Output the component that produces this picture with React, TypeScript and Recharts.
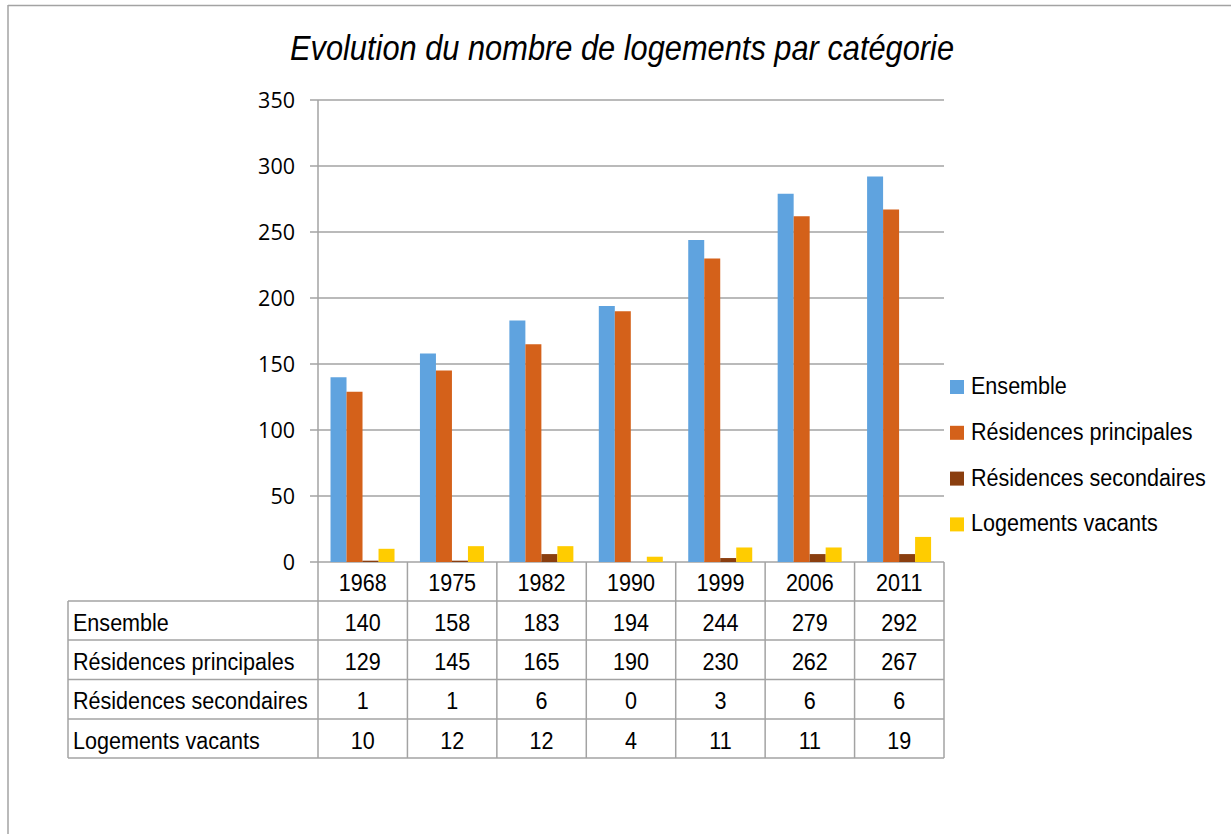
import React from 'react';
import { BarChart, Bar, XAxis, YAxis, CartesianGrid, Legend } from 'recharts';

const years = ['1968', '1975', '1982', '1990', '1999', '2006', '2011'];
const ensemble = [140, 158, 183, 194, 244, 279, 292];
const principales = [129, 145, 165, 190, 230, 262, 267];
const secondaires = [1, 1, 6, 0, 3, 6, 6];
const vacants = [10, 12, 12, 4, 11, 11, 19];
const seriesNames = ['Ensemble', 'Résidences principales', 'Résidences secondaires', 'Logements vacants'];
const seriesKeys = ['ensemble', 'principales', 'secondaires', 'vacants'];
const seriesColors = ['#5fa3df', '#d4611a', '#8a3e0f', '#ffcc00'];
const seriesValues = [ensemble, principales, secondaires, vacants];
const yTicks = [0, 50, 100, 150, 200, 250, 300, 350];

const data = years.map((year, i) => ({
  year,
  ensemble: ensemble[i],
  principales: principales[i],
  secondaires: secondaires[i],
  vacants: vacants[i],
}));

const W = 1231;
const H = 834;
const PLOT_LEFT = 318;
const PLOT_RIGHT = 944;
const PLOT_TOP = 100;
const PLOT_BOTTOM = 562;
const TABLE_LEFT = 68;
const rowLines = [562, 601, 640, 679.5, 719, 758];
const LINE = '#a3a3a3';
const FONT = '"Liberation Sans", Arial, sans-serif';
const SQX = 0.88; // narrow look of the original text

function CondText({ x, y, size, anchor = 'start', italic = false, children }: any) {
  return (
    <text
      transform={`translate(${x},${y}) scale(${SQX},1)`}
      textAnchor={anchor}
      fontFamily={FONT}
      fontSize={size}
      fontStyle={italic ? 'italic' : 'normal'}
      fill="#000"
    >
      {children}
    </text>
  );
}

function YTick({ x, y, payload }: any) {
  return (
    <text
      x={x}
      y={y + 7.5}
      textAnchor="end"
      fontFamily='"Open Sans", sans-serif'
      fontSize={21.5}
      fill="#000"
    >
      {payload.value}
    </text>
  );
}

function LegendBox({ payload }: any) {
  // keep the series order, not the alphabetical one
  const items = [...(payload || [])].sort(
    (a: any, b: any) => seriesNames.indexOf(a.value) - seriesNames.indexOf(b.value)
  );
  return (
    <svg width={287} height={200}>
      {items.map((p: any, i: number) => {
        const base = 24 + i * 45.8;
        return (
          <g key={p.value}>
            <rect x={6} y={base - 14} width={14} height={14} fill={p.color} />
            <CondText x={27} y={base} size={24.5}>{p.value}</CondText>
          </g>
        );
      })}
    </svg>
  );
}

function DataTable() {
  const colW = (PLOT_RIGHT - PLOT_LEFT) / years.length;
  const cols = years.map((_, i) => PLOT_LEFT + i * colW);
  cols.push(PLOT_RIGHT);
  return (
    <svg width={W} height={H} style={{ position: 'absolute', left: 0, top: 0, pointerEvents: 'none' }}>
      {/* frame of the picture */}
      <line x1={8} y1={5.5} x2={W} y2={5.5} stroke={LINE} strokeWidth={1.5} />
      <line x1={8} y1={5} x2={8} y2={H} stroke={LINE} strokeWidth={1.5} />

      <CondText x={622} y={60} size={35} anchor="middle" italic>
        Evolution du nombre de logements par catégorie
      </CondText>

      {/* vertical lines */}
      {cols.map((cx, i) => (
        <line key={'v' + i} x1={cx} y1={rowLines[0]} x2={cx} y2={rowLines[5]} stroke={LINE} strokeWidth={1.5} />
      ))}
      <line x1={TABLE_LEFT} y1={rowLines[1]} x2={TABLE_LEFT} y2={rowLines[5]} stroke={LINE} strokeWidth={1.5} />
      {/* horizontal lines */}
      {rowLines.slice(1).map((ry, i) => (
        <line key={'h' + i} x1={TABLE_LEFT} y1={ry} x2={PLOT_RIGHT} y2={ry} stroke={LINE} strokeWidth={1.5} />
      ))}

      {years.map((yr, i) => (
        <CondText key={yr} x={cols[i] + colW / 2} y={rowLines[0] + 29} size={24.5} anchor="middle">
          {yr}
        </CondText>
      ))}
      {seriesNames.map((name, r) => (
        <g key={name}>
          <CondText x={73} y={rowLines[r + 1] + 29.5} size={24.5}>{name}</CondText>
          {seriesValues[r].map((v, i) => (
            <CondText key={i} x={cols[i] + colW / 2} y={rowLines[r + 1] + 29.5} size={24.5} anchor="middle">
              {v}
            </CondText>
          ))}
        </g>
      ))}
    </svg>
  );
}

export default function App() {
  return (
    <div style={{ position: 'absolute', left: 0, top: 0, width: W, height: H, background: '#fff' }}>
      <BarChart
        width={W}
        height={H}
        data={data}
        margin={{ top: PLOT_TOP, right: W - PLOT_RIGHT, bottom: H - PLOT_BOTTOM, left: 0 }}
        barCategoryGap="14%"
        barGap={0}
      >
        <CartesianGrid vertical={false} stroke={LINE} strokeWidth={1.5} />
        <XAxis dataKey="year" hide />
        <YAxis
          width={PLOT_LEFT}
          domain={[0, 350]}
          ticks={yTicks}
          interval={0}
          tickSize={8}
          tickMargin={15}
          tick={<YTick />}
          tickLine={{ stroke: LINE, strokeWidth: 1.5 }}
          axisLine={{ stroke: LINE, strokeWidth: 1.5 }}
        />
        <Legend
          layout="vertical"
          align="center"
          verticalAlign="middle"
          content={<LegendBox />}
          wrapperStyle={{ left: 944, top: 370, width: 287, height: 200 }}
        />
        {seriesKeys.map((k, i) => (
          <Bar key={k} dataKey={k} name={seriesNames[i]} fill={seriesColors[i]} isAnimationActive={false} />
        ))}
      </BarChart>
      <DataTable />
    </div>
  );
}
